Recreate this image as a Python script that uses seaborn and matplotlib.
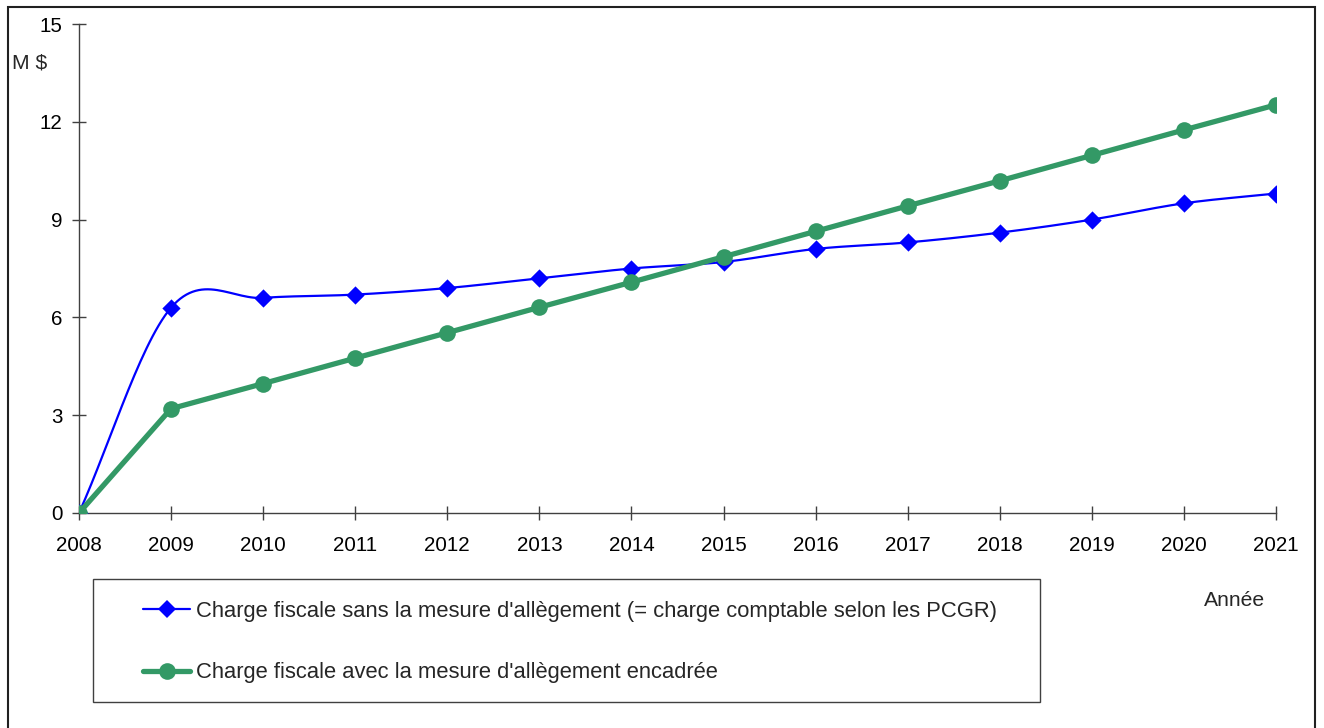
import numpy as np
import pandas as pd
import matplotlib
matplotlib.use("Agg")
import matplotlib.pyplot as plt
import seaborn as sns
from matplotlib.lines import Line2D
from matplotlib.patches import Rectangle

years = [2008, 2009, 2010, 2011, 2012, 2013, 2014, 2015, 2016, 2017, 2018, 2019, 2020, 2021]
sans_mesure = [0, 6.3, 6.6, 6.7, 6.9, 7.2, 7.5, 7.7, 8.1, 8.3, 8.6, 9.0, 9.5, 9.8]
avec_mesure = [0, 3.2, 3.97, 4.75, 5.53, 6.31, 7.08, 7.86, 8.64, 9.42, 10.19, 10.97, 11.75, 12.52]
y_ticks = [0, 3, 6, 9, 12, 15]
label_sans = "Charge fiscale sans la mesure d'allègement (= charge comptable selon les PCGR)"
label_avec = "Charge fiscale avec la mesure d'allègement encadrée"

BLUE = "#0000FF"
GREEN = "#339966"
AX_COL = "#404040"

sns.set_theme(style="white")
plt.rcParams["font.family"] = ["Liberation Sans", "DejaVu Sans"]
FS = 14.8
FS_LEG = 15.8


def smooth(xs, ys, n=30):
    """Catmull-Rom style smoothing (spreadsheet 'smoothed line') for display."""
    xs = np.asarray(xs, float)
    ys = np.asarray(ys, float)
    ox, oy = [], []
    m = len(xs)
    for i in range(m - 1):
        t0 = (ys[i + 1] - ys[i - 1]) / 2 if i > 0 else (ys[i + 1] - ys[i])
        t1 = (ys[i + 2] - ys[i]) / 2 if i + 2 < m else (ys[i + 1] - ys[i])
        t = np.linspace(0, 1, n, endpoint=(i == m - 2))
        h00 = 2 * t**3 - 3 * t**2 + 1
        h10 = t**3 - 2 * t**2 + t
        h01 = -2 * t**3 + 3 * t**2
        h11 = t**3 - t**2
        ox.append(xs[i] + t * (xs[i + 1] - xs[i]))
        oy.append(h00 * ys[i] + h10 * t0 + h01 * ys[i + 1] + h11 * t1)
    return np.concatenate(ox), np.concatenate(oy)


fig = plt.figure(figsize=(13.24, 7.28), dpi=100)
W, H = 1324, 728
ax = fig.add_axes([79 / W, 1 - 513 / H, (1276 - 79) / W, (513 - 24) / H])

df = pd.DataFrame({"annee": years, "sans": sans_mesure, "avec": avec_mesure})
sx, sy = smooth(years, sans_mesure)
sdf = pd.DataFrame({"x": sx, "y": sy})

D_MS = 9.3
O_MS = 12
sns.lineplot(data=sdf, x="x", y="y", ax=ax, color=BLUE, lw=1.6, zorder=3)
sns.scatterplot(data=df, x="annee", y="sans", ax=ax, marker="D", s=D_MS**2,
                color=BLUE, edgecolor=BLUE, linewidth=0, zorder=4)
sns.lineplot(data=df, x="annee", y="avec", ax=ax, color=GREEN, lw=3.8,
             marker="o", markersize=O_MS, markeredgewidth=0, zorder=5)

ax.set_xlim(2008, 2021)
ax.set_ylim(0, 15)
ax.set_xticks(years)
ax.set_xticklabels([str(y) for y in years])
ax.set_yticks(y_ticks)
ax.set_yticklabels([str(v) for v in y_ticks])
ax.set_xlabel("")
ax.set_ylabel("")
for s in ["top", "right"]:
    ax.spines[s].set_visible(False)
for s in ["left", "bottom"]:
    ax.spines[s].set_color(AX_COL)
    ax.spines[s].set_linewidth(1.0)
ax.tick_params(axis="both", direction="inout", length=9.5, width=1.0,
               color=AX_COL, labelsize=FS, labelcolor="black",
               bottom=True, left=True)
ax.tick_params(axis="y", pad=7)
ax.tick_params(axis="x", pad=11.5)
ax.grid(False)
for sp in ax.spines.values():
    sp.set_clip_on(False)

fig.text(12 / W, 1 - 63 / H, "M $", fontsize=15.2, ha="left", va="center")
fig.text(1235 / W, 1 - 600 / H, "Année", fontsize=15.2, ha="center", va="center")

# outer border
fig.patches.append(Rectangle((8 / W, -0.05), (1315 - 8) / W, 1.05 - 7 / H,
                             transform=fig.transFigure, fill=False,
                             edgecolor="#202020", lw=1.5, clip_on=False))
# legend box
fig.patches.append(Rectangle((93 / W, 1 - 702 / H), (1040 - 93) / W, (702 - 579) / H,
                             transform=fig.transFigure, fill=False,
                             edgecolor="#404040", lw=1.0))

handles = [
    Line2D([], [], color=BLUE, lw=1.6, marker="D", markersize=D_MS, markeredgewidth=0),
    Line2D([], [], color=GREEN, lw=3.8, marker="o", markersize=O_MS, markeredgewidth=0),
]
fig.legend(handles, [label_sans, label_avec], loc="upper left",
           bbox_to_anchor=(143 / W, 1 - 601 / H), frameon=False, fontsize=FS_LEG,
           handlelength=2.15, handletextpad=0.28, labelspacing=1.84,
           borderpad=0, borderaxespad=0)

fig.savefig("out.png", dpi=100, facecolor="white")
